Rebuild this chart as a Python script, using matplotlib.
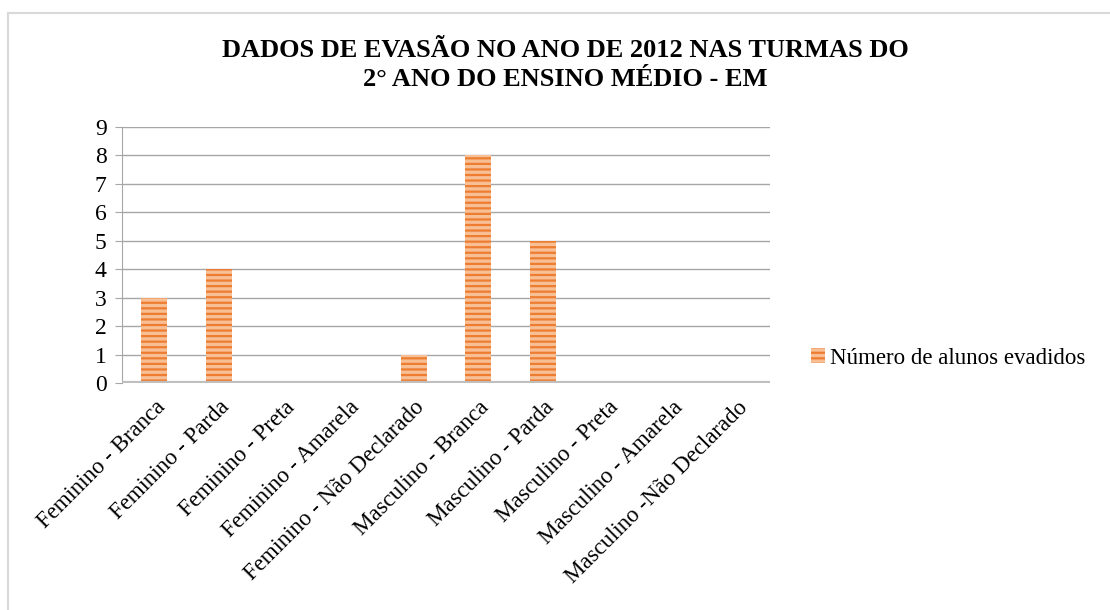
import matplotlib.pyplot as plt
from matplotlib.lines import Line2D

categories = ['Feminino - Branca', 'Feminino - Parda', 'Feminino - Preta',
              'Feminino - Amarela', 'Feminino - Não Declarado',
              'Masculino - Branca', 'Masculino - Parda', 'Masculino - Preta',
              'Masculino - Amarela', 'Masculino -Não Declarado']
evadidos = [3, 4, 0, 0, 1, 8, 5, 0, 0, 0]
y_ticks = list(range(0, 10))

plt.rcParams['font.family'] = ['Liberation Serif', 'DejaVu Serif']
plt.rcParams['hatch.linewidth'] = 1.6

fig = plt.figure(figsize=(11.1, 6.1), dpi=100)
ax = fig.add_axes([122 / 1110, 1 - 383 / 610, (770 - 122) / 1110, (383 - 127) / 610])

x = range(len(categories))
ax.bar(x, evadidos, width=0.4, color='#F8BE94', edgecolor='#ED7D31',
       hatch='---', linewidth=0, label='Número de alunos evadidos', zorder=3)

ax.set_xlim(-0.5, len(categories) - 0.5)
ax.set_ylim(0, 9)
ax.set_yticks(y_ticks)
ax.set_yticklabels([str(v) for v in y_ticks], fontsize=17)
ax.set_xticks(list(x))
ax.set_xticklabels(categories, rotation=45, ha='right', rotation_mode='anchor', fontsize=16.5)
ax.tick_params(axis='x', length=0, pad=10)
ax.tick_params(axis='y', length=5, color='#A6A6A6', pad=6)

ax.grid(axis='y', color='#A6A6A6', linewidth=1.0, zorder=0)
for s in ['top', 'right', 'bottom']:
    ax.spines[s].set_visible(False)
ax.spines['left'].set_color('#A6A6A6')
ax.axhline(0, color='#BFBFBF', linewidth=3, zorder=4)

fig.legend(loc='center left', bbox_to_anchor=(800 / 1110, 1 - 358 / 610),
           frameon=False, fontsize=16.5, handlelength=0.6, handleheight=0.6,
           handletextpad=0.2, borderpad=0)

fig.text(565 / 1110, 1 - 65 / 610,
         'DADOS DE EVASÃO NO ANO DE 2012 NAS TURMAS DO\n2° ANO DO ENSINO MÉDIO - EM',
         ha='center', va='center', fontsize=19, fontweight='bold',
         fontfamily=['Liberation Serif'], linespacing=1.3)

# outer frame of the chart area
fig.add_artist(Line2D([8 / 1110, 1], [1 - 13 / 610, 1 - 13 / 610], color='#D9D9D9', linewidth=1.5))
fig.add_artist(Line2D([8 / 1110, 8 / 1110], [0, 1 - 13 / 610], color='#D9D9D9', linewidth=1.5))

fig.savefig('out.png', dpi=100)
